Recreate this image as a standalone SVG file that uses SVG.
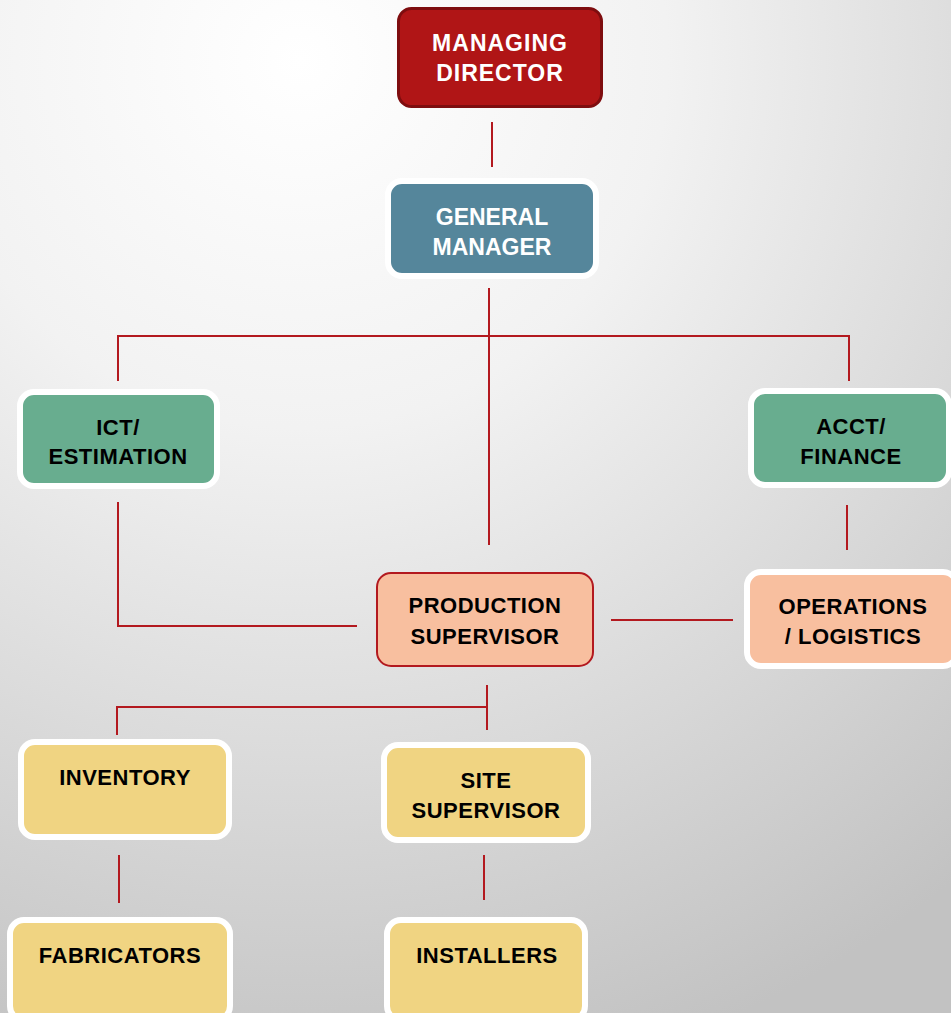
<svg xmlns="http://www.w3.org/2000/svg" width="951" height="1013" viewBox="0 0 951 1013">
<defs>
<radialGradient id="bg" cx="300" cy="60" r="1050" gradientUnits="userSpaceOnUse">
<stop offset="0" stop-color="#ffffff"/>
<stop offset="0.35" stop-color="#f2f2f2"/>
<stop offset="1" stop-color="#c2c2c2"/>
</radialGradient>
<style>
.conn{stroke:#b3191f;stroke-width:2;fill:none}
.w{stroke:#ffffff;stroke-width:6}
.t{font-family:"Liberation Sans",Arial,sans-serif;font-weight:bold;font-size:22px;text-anchor:middle}
.tw{fill:#ffffff;font-size:23px}
.tb{fill:#000000;letter-spacing:0.5px}
</style>
</defs>
<rect x="0" y="0" width="951" height="1013" fill="url(#bg)"/>
<g id="connectors">
<line class="conn" x1="492" y1="122" x2="492" y2="167"/>
<line class="conn" x1="489" y1="288" x2="489" y2="545"/>
<polyline class="conn" points="118,381 118,336 849,336 849,381"/>
<polyline class="conn" points="118,502 118,626 357,626"/>
<line class="conn" x1="847" y1="505" x2="847" y2="550"/>
<line class="conn" x1="611" y1="620" x2="733" y2="620"/>
<line class="conn" x1="487" y1="685" x2="487" y2="730"/>
<polyline class="conn" points="117,735 117,707 487,707"/>
<line class="conn" x1="119" y1="855" x2="119" y2="903"/>
<line class="conn" x1="484" y1="855" x2="484" y2="900"/>
</g>
<g id="managing-director">
<rect x="398.5" y="8.5" width="203" height="98" rx="13" fill="#b01516" stroke="#7e0d0f" stroke-width="3"/>
<text class="t tw" x="500" y="51" letter-spacing="1">MANAGING</text>
<text class="t tw" x="500" y="81" letter-spacing="1">DIRECTOR</text>
</g>
<g id="general-manager">
<rect class="w" x="388" y="181" width="208" height="95" rx="14" fill="#55869b"/>
<text class="t tw" x="492" y="225">GENERAL</text>
<text class="t tw" x="492" y="255">MANAGER</text>
</g>
<g id="ict-estimation">
<rect class="w" x="20" y="392" width="197" height="94" rx="14" fill="#68ad8f"/>
<text class="t tb" x="118" y="435">ICT/</text>
<text class="t tb" x="118" y="464">ESTIMATION</text>
</g>
<g id="acct-finance">
<rect class="w" x="751" y="391" width="198" height="94" rx="14" fill="#68ad8f"/>
<text class="t tb" x="851" y="434">ACCT/</text>
<text class="t tb" x="851" y="464">FINANCE</text>
</g>
<g id="production-supervisor">
<rect x="377" y="573" width="216" height="93" rx="14" fill="#f8bf9f" stroke="#b3191f" stroke-width="2"/>
<text class="t tb" x="485" y="613">PRODUCTION</text>
<text class="t tb" x="485" y="644">SUPERVISOR</text>
</g>
<g id="operations-logistics">
<rect class="w" x="747" y="572" width="210" height="94" rx="14" fill="#f8bf9f"/>
<text class="t tb" x="853" y="614">OPERATIONS</text>
<text class="t tb" x="853" y="644">/ LOGISTICS</text>
</g>
<g id="inventory">
<rect class="w" x="21" y="742" width="208" height="95" rx="14" fill="#f0d482"/>
<text class="t tb" x="125" y="785">INVENTORY</text>
</g>
<g id="site-supervisor">
<rect class="w" x="384" y="745" width="204" height="95" rx="14" fill="#f0d482"/>
<text class="t tb" x="486" y="788">SITE</text>
<text class="t tb" x="486" y="818">SUPERVISOR</text>
</g>
<g id="fabricators">
<rect class="w" x="10" y="920" width="220" height="100" rx="14" fill="#f0d482"/>
<text class="t tb" x="120" y="963">FABRICATORS</text>
</g>
<g id="installers">
<rect class="w" x="387" y="920" width="198" height="100" rx="14" fill="#f0d482"/>
<text class="t tb" x="487" y="963">INSTALLERS</text>
</g>
</svg>
